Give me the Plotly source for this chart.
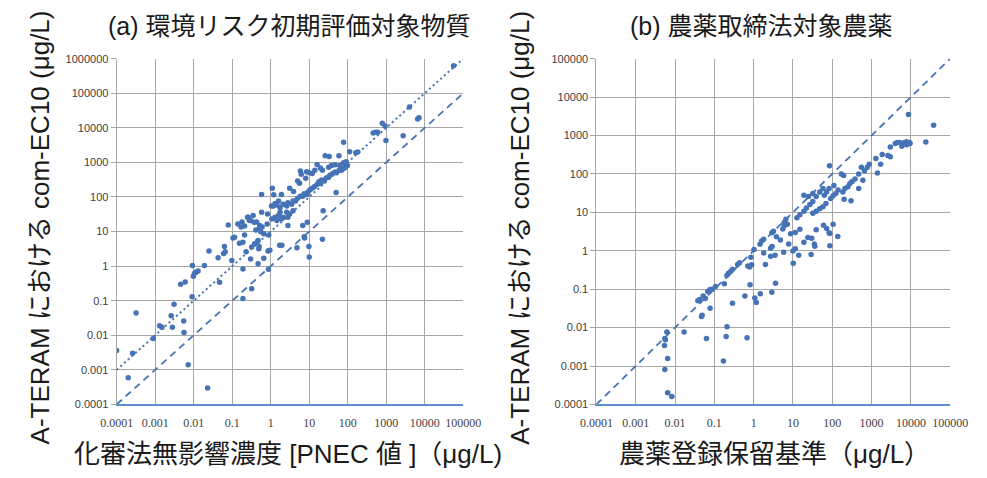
import plotly.graph_objects as go

# (a) 環境リスク初期評価対象物質: PNEC (化審法) vs A-TERAM com-EC10, both in µg/L
pnec = [
    0.0001, 0.0002, 0.00026, 0.00032, 0.00089, 0.0013, 0.0015, 0.0028, 0.0026, 0.0031,
    0.0055, 0.0056, 0.0072, 0.023, 0.0091, 0.0046, 0.006, 0.0093, 0.0098, 0.0105,
    0.0115, 0.013, 0.019, 0.025, 0.047, 0.043, 0.06, 0.066, 0.063, 0.079,
    0.098, 0.105, 0.115, 0.19, 0.19, 0.32, 0.19, 0.23, 0.30, 0.32,
    0.38, 0.47, 0.49, 0.47, 0.66, 0.85, 0.95, 0.87, 1.7, 1.95,
    4.8, 7.6, 9.8, 10, 22,
    0.14, 0.17, 0.21, 0.25, 0.28, 0.37, 0.41, 0.50, 0.55, 0.60,
    0.66, 0.81, 0.89, 1.07, 1.3, 1.45, 1.6, 1.75, 1.9, 2.1,
    2.6, 2.8, 3.1, 3.8, 1.05, 1.3, 1.6, 0.155, 0.21, 0.45,
    0.5, 2.8, 6.8, 8.9, 7.4, 23,
    1.17, 1.45, 1.75, 2.1, 2.6, 2.8, 3.5, 3.8, 4.4, 5.0,
    5.9, 6.8, 7.4, 8.7, 9.3, 10.5, 12, 13.8, 16.2, 17.8,
    19.5, 21, 24.5, 27.5, 31.6, 34.7, 40.7, 46.8, 51, 60,
    69, 78, 87, 98, 91, 78, 62,
    56000, 4000, 6500, 7100, 2750, 980, 790, 930, 457, 525,
    600, 162, 182, 112, 78, 59, 26, 33, 16, 10,
    5.9, 6.2, 14, 19.5, 22, 32, 38, 47, 5.0, 5.6,
    8.1, 3.1, 3.9, 1.9, 0.58, 50,
    0.18, 0.26, 0.30, 0.35, 0.43, 0.52, 0.58, 1.1, 1.2, 0.83,
    8.5, 12,
]
ec10_a = [
    0.0036, 0.00059, 0.0030, 0.044, 0.0081, 0.019, 0.017, 0.017, 0.037, 0.079,
    0.026, 0.012, 0.0014, 0.0003, 0.13, 0.30, 0.35, 1.05, 0.51, 0.62,
    0.66, 0.72, 1.05, 2.75, 0.34, 1.74, 2.3, 2.6, 3.7, 15.5,
    1.45, 6.5, 6.8, 0.83, 0.115, 0.22, 4.9, 2.6, 1.6, 3.6,
    4.4, 5.5, 3.2, 1.17, 1.7, 2.75, 2.9, 0.81, 4.0, 4.0,
    3.4, 6.5, 3.7, 1.85, 6.0,
    16.6, 13.5, 14.5, 25.7, 21, 18.6, 11, 12, 9.8, 13.5,
    8.7, 16.6, 7.9, 23, 26, 21, 29, 36, 23, 26,
    36, 26, 32, 40, 55, 65, 76, 4.6, 7.9, 5.1,
    3.7, 15, 15, 18.6, 7.1, 40,
    55, 59, 49, 62, 55, 68, 62, 76, 76, 91,
    105, 105, 123, 117, 138, 162, 178, 200, 234, 275,
    251, 309, 288, 355, 380, 427, 479, 525, 501, 589,
    589, 661, 724, 813, 1050, 977, 813,
    620000, 40000, 18000, 19500, 5900, 4300, 13500, 11200, 7100, 7400,
    7400, 1900, 2000, 2040, 3800, 1550, 1550, 1480, 870, 500,
    560, 457, 590, 690, 590, 724, 813, 850, 288, 251,
    347, 178, 145, 117, 117, 135,
    19, 26, 21, 29, 19, 15, 36, 180, 115, 32,
    537, 480,
]

# (b) 農薬取締法対象農薬: registration withholding standard vs A-TERAM com-EC10, µg/L
reg_std = [
    0.0065, 0.0083, 0.0055, 0.0065, 0.0054, 0.0057, 0.0055, 0.0062, 0.017, 0.063,
    0.17, 0.20, 0.21, 0.68, 0.047, 0.049, 0.078, 0.038, 0.042, 0.052,
    0.059, 0.068, 0.078, 0.089, 0.107, 0.18, 0.29, 0.21, 0.23, 0.26,
    0.29, 0.39, 0.44, 0.71, 0.79, 0.89, 0.85, 0.81, 0.60, 1.07,
    1.17, 1.48, 2.9, 3.6, 2.0, 1.02, 1.45, 1.6, 1.8, 1.8,
    2.7, 2.95, 2.7, 3.5, 2.9, 3.2, 3.8, 4.8, 5.5, 6.0,
    5.8,
    10.2, 7.8, 10, 11.5, 14, 19, 24, 30, 29, 35,
    36, 39, 60, 72, 83, 87, 87, 105, 138,
    38000, 8700, 24000, 6300, 6900, 7800, 8500, 9300, 9500, 7900,
    5900, 5200, 4500, 4000, 3000, 2600, 3000, 1860, 1700, 1290,
    1410, 870, 780, 660, 550, 470, 470, 600, 380, 320,
    280, 250, 210, 186, 300, 200, 170, 195, 85, 141,
    123, 105, 91, 69, 58, 48, 39, 32, 110, 83,
    72, 63, 48, 39, 32, 27, 22, 19, 15, 12.6,
    19, 25, 32, 58, 15, 11.5, 8.7, 7.2, 6.6, 6.0,
]
ec10_b = [
    0.0002, 0.00016, 0.00081, 0.00156, 0.0034, 0.0048, 0.0052, 0.0077, 0.0077, 0.0052,
    0.00136, 0.0059, 0.0105, 0.0054, 0.0195, 0.021, 0.032, 0.050, 0.054, 0.066,
    0.057, 0.087, 0.098, 0.10, 0.117, 0.138, 0.043, 0.23, 0.26, 0.29,
    0.33, 0.44, 0.49, 0.40, 0.38, 0.43, 0.68, 0.13, 0.066, 0.059,
    0.045, 0.076, 0.083, 0.142, 0.44, 1.07, 1.48, 1.8, 2.0, 0.87,
    1.17, 1.29, 0.72, 0.76, 2.95, 3.2, 2.3, 1.9, 3.7, 5.4,
    0.91,
    0.47, 1.5, 0.98, 1.12, 0.76, 1.66, 2.2, 2.1, 0.8, 1.5,
    1.3, 3.5, 4.6, 3.8, 2.95, 2.8, 1.35, 4.9, 2.35,
    1860, 3500, 675, 620, 660, 690, 630, 660, 620, 575,
    525, 660, 660, 620, 500, 300, 280, 320, 178, 250,
    105, 178, 148, 120, 148, 100, 42, 68, 74, 63,
    56, 46, 42, 34, 20, 22, 100, 91, 162, 38,
    31, 27, 23, 17, 14, 12.3, 10.7, 9.5, 50, 42,
    34, 28, 34, 26, 19, 16, 13, 10.7, 8.7, 7.2,
    28, 26, 31, 42, 3.6, 3.0, 2.75, 4.9, 6.6, 4.5,
]

# axis ticks (decades)
ticks_x = [0.0001, 0.001, 0.01, 0.1, 1, 10, 100, 1000, 10000, 100000]
ticks_x_text = ["0.0001", "0.001", "0.01", "0.1", "1", "10", "100", "1000", "10000", "100000"]
ticks_ya = ticks_x + [1000000]
ticks_ya_text = ticks_x_text + ["1000000"]

# reference lines: 1:1 and 10:1
ref_x = [0.0001, 100000]
ref_y1 = [v for v in ref_x]
ref_y10 = [v * 10 for v in ref_x]

BLUE = "#4673b6"
GRID = "#a6a6a6"
TICKFONT_Y = dict(family="Liberation Sans, Arial, sans-serif", size=11, color="#404040")
TICKFONT_X = dict(family="Liberation Serif, serif", size=12, color="#404040")
CJK = "Liberation Sans, Noto Sans CJK JP, sans-serif"

fig = go.Figure()

# panel (a)
fig.add_trace(go.Scatter(x=ref_x, y=ref_y10, mode="lines", xaxis="x", yaxis="y",
                         line=dict(color=BLUE, width=2, dash="2px,3px"), hoverinfo="skip"))
fig.add_trace(go.Scatter(x=ref_x, y=ref_y1, mode="lines", xaxis="x", yaxis="y",
                         line=dict(color=BLUE, width=1.8, dash="7px,5px"), hoverinfo="skip"))
fig.add_trace(go.Scatter(x=pnec, y=ec10_a, mode="markers", xaxis="x", yaxis="y",
                         marker=dict(color=BLUE, size=5.5)))

# panel (b)
fig.add_trace(go.Scatter(x=ref_x, y=ref_y1, mode="lines", xaxis="x2", yaxis="y2",
                         line=dict(color=BLUE, width=1.8, dash="7px,5px"), hoverinfo="skip"))
fig.add_trace(go.Scatter(x=reg_std, y=ec10_b, mode="markers", xaxis="x2", yaxis="y2",
                         marker=dict(color=BLUE, size=5.5)))

W, H = 987, 478
ydom = [1 - 408.7 / H, 1 - 54 / H]

xcommon = dict(type="log", tickmode="array", tickvals=ticks_x, ticktext=ticks_x_text,
               showgrid=True, gridcolor=GRID, gridwidth=1, showline=True,
               linecolor="#5b8fd0", linewidth=1.5, ticks="", tickfont=TICKFONT_X,
               ticklabelstandoff=6, zeroline=False, fixedrange=True, range=[-4, 5])
ycommon = dict(type="log", tickmode="array", showgrid=True, gridcolor=GRID, gridwidth=1,
               showline=True, linecolor=GRID, linewidth=1, ticks="outside", ticklen=5,
               tickcolor=GRID, tickfont=TICKFONT_Y, zeroline=False, fixedrange=True,
               domain=ydom)

fig.update_layout(
    width=W, height=H, margin=dict(l=0, r=0, t=0, b=0),
    paper_bgcolor="white", plot_bgcolor="white", showlegend=False,
    xaxis=dict(xcommon, domain=[103.3 / W, 462.7 / W], anchor="y"),
    yaxis=dict(ycommon, tickvals=ticks_ya, ticktext=ticks_ya_text, range=[-4, 6], anchor="x"),
    xaxis2=dict(xcommon, domain=[600.7 / W, 967.5 / W], anchor="y2"),
    yaxis2=dict(ycommon, tickvals=ticks_x, ticktext=ticks_x_text, range=[-4, 5], anchor="x2"),
)

def label(text, x, y, size, angle=0):
    fig.add_annotation(text=text, x=x / W, y=1 - y / H, xref="paper", yref="paper",
                       showarrow=False, textangle=angle, xanchor="center", yanchor="middle",
                       font=dict(family=CJK, size=size, color="#1a1a1a"))

label("(a) 環境リスク初期評価対象物質", 283, 21, 25)
label("(b) 農薬取締法対象農薬", 772, 21, 25)
label("A-TERAM における com-EC10 (μg/L)", 24, 227, 26, -90)
label("A-TERAM における com-EC10 (μg/L)", 522, 227, 26, -90)
label("化審法無影響濃度 [PNEC 値 ]（μg/L)", 281, 460, 26)
label("農薬登録保留基準（μg/L）", 785, 460, 26)

fig.write_html("out.html")
